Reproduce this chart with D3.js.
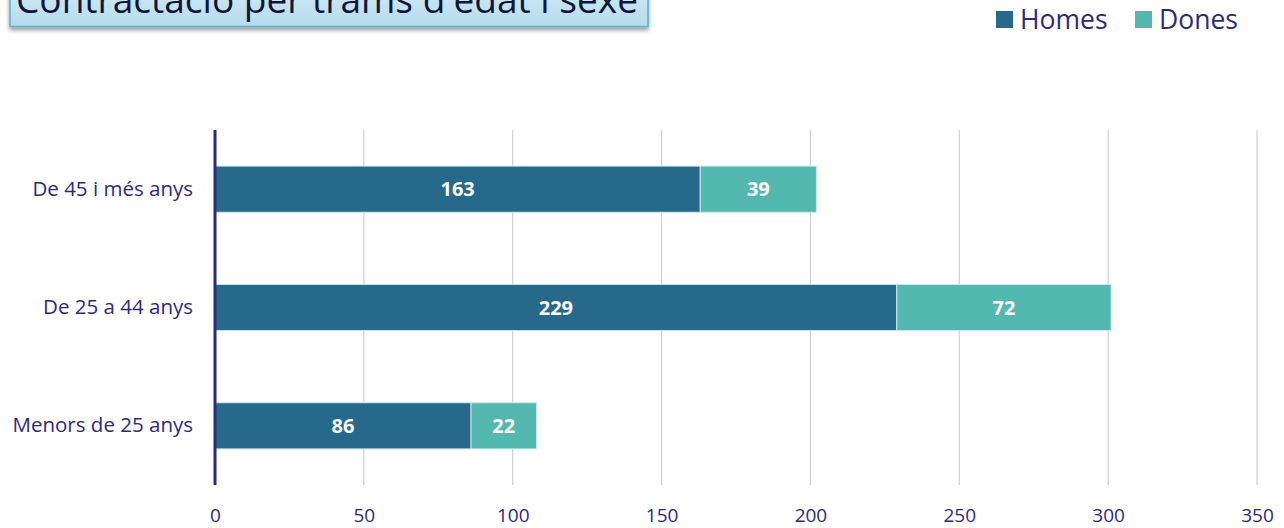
<!DOCTYPE html>
<html>
<head>
<meta charset="utf-8">
<script src="https://cdn.jsdelivr.net/npm/d3@7"></script>
<style>
  body { margin: 0; background: #fff; }
  svg { display: block; font-family: "Open Sans", sans-serif; }
</style>
</head>
<body>
<svg id="chart" width="1284" height="528"></svg>
<script>
const categories = ["De 45 i més anys", "De 25 a 44 anys", "Menors de 25 anys"];
const series = ["Homes", "Dones"];
const homes = [163, 229, 86];
const dones = [39, 72, 22];
const ticks = [0, 50, 100, 150, 200, 250, 300, 350];
const title = "Contractació per trams d'edat i sexe";

var colors = { Homes: "#27698a", Dones: "#53b8b0" };
var textColor = "#2e2a80";

var svg = d3.select("#chart");

var rows = categories.map(function(c, i) {
  return { cat: c, Homes: homes[i], Dones: dones[i] };
});
var stacked = d3.stack().keys(series)(rows);

var x = d3.scaleLinear().domain([0, 350]).range([215, 1257]);
var y = d3.scaleBand().domain(categories).range([130, 485]).paddingInner(0.61).paddingOuter(0.305);

// title box (cut off at the top in the original)
var defs = svg.append("defs");
var grad = defs.append("linearGradient").attr("id", "tg").attr("x1", 0).attr("y1", 0).attr("x2", 0).attr("y2", 1);
grad.append("stop").attr("offset", "0%").attr("stop-color", "#dcf0f8");
grad.append("stop").attr("offset", "100%").attr("stop-color", "#b5dbeb");
var shadow = defs.append("filter").attr("id", "sh").attr("x", "-5%").attr("y", "-20%").attr("width", "110%").attr("height", "160%");
shadow.append("feDropShadow").attr("dx", 0).attr("dy", 3).attr("stdDeviation", 2).attr("flood-color", "#000").attr("flood-opacity", 0.4);

svg.append("rect")
  .attr("x", 10).attr("y", -30).attr("width", 638).attr("height", 56.5)
  .attr("fill", "url(#tg)").attr("stroke", "#5aaed0").attr("stroke-width", 1.5)
  .attr("filter", "url(#sh)");
svg.append("text")
  .attr("x", 16).attr("y", 13)
  .attr("font-size", 36.5).attr("fill", "#14143a")
  .attr("textLength", 622).attr("lengthAdjust", "spacingAndGlyphs")
  .text(title);

// gridlines
svg.append("g").selectAll("line")
  .data(ticks.slice(1))
  .enter().append("line")
  .attr("x1", function(d) { return x(d); })
  .attr("x2", function(d) { return x(d); })
  .attr("y1", 130).attr("y2", 485)
  .attr("stroke", "#cfcfd4").attr("stroke-width", 1.2);

// bars
var layers = svg.append("g").selectAll("g")
  .data(stacked)
  .enter().append("g")
  .attr("fill", function(d) { return colors[d.key]; });

layers.selectAll("rect")
  .data(function(d) { return d; })
  .enter().append("rect")
  .attr("x", function(d) { return x(d[0]); })
  .attr("y", function(d) { return y(d.data.cat); })
  .attr("width", function(d) { return x(d[1]) - x(d[0]); })
  .attr("height", y.bandwidth())
  .attr("stroke", "#cde8ee").attr("stroke-width", 1);

layers.selectAll("text")
  .data(function(d) { return d; })
  .enter().append("text")
  .attr("x", function(d) { return (x(d[0]) + x(d[1])) / 2; })
  .attr("y", function(d) { return y(d.data.cat) + y.bandwidth() / 2; })
  .attr("dy", "0.36em")
  .attr("text-anchor", "middle")
  .attr("font-size", 20).attr("font-weight", "bold")
  .attr("fill", "#fff")
  .text(function(d) { return d[1] - d[0]; });

// axis line
svg.append("line")
  .attr("x1", x(0)).attr("x2", x(0))
  .attr("y1", 130).attr("y2", 485)
  .attr("stroke", "#2e2a80").attr("stroke-width", 3);

// x tick labels
var xAxis = svg.append("g")
  .attr("transform", "translate(0,508.5)")
  .call(d3.axisBottom(x).tickValues(ticks).tickSize(0).tickPadding(0));
xAxis.select(".domain").remove();
xAxis.selectAll("text")
  .attr("font-size", 19).attr("fill", textColor)
  .attr("font-family", "Open Sans, sans-serif");

// y labels
var yAxis = svg.append("g")
  .attr("transform", "translate(193,0)")
  .call(d3.axisLeft(y).tickSize(0).tickPadding(0));
yAxis.select(".domain").remove();
yAxis.selectAll("text")
  .attr("font-size", 20.5).attr("fill", textColor)
  .attr("font-family", "Open Sans, sans-serif");

// legend
var legendX = [996, 1135];
var legend = svg.append("g").selectAll("g")
  .data(series)
  .enter().append("g")
  .attr("transform", function(d, i) { return "translate(" + legendX[i] + ",11)"; });
legend.append("rect")
  .attr("width", 17).attr("height", 17)
  .attr("fill", function(d) { return colors[d]; });
legend.append("text")
  .attr("x", 24).attr("y", 8.5).attr("dy", "0.36em")
  .attr("font-size", 26.5).attr("fill", textColor)
  .text(function(d) { return d; });
</script>
</body>
</html>
